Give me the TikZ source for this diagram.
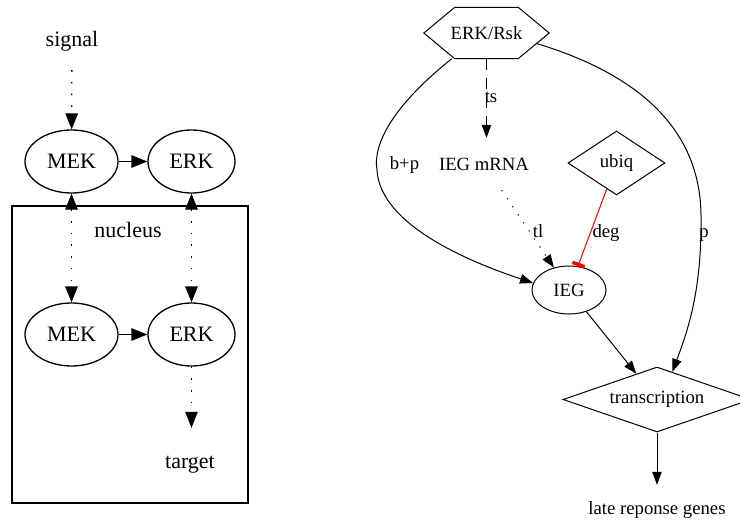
\documentclass[tikz,border=0pt]{standalone}
\usepackage{fontspec}
\setmainfont{Liberation Serif}
\usetikzlibrary{arrows.meta,shapes.geometric}
\begin{document}
\begin{tikzpicture}[x=1pt,y=-1pt,
  bigfont/.style={font=\fontsize{22}{26}\selectfont},
  smallfont/.style={font=\fontsize{18.7}{22}\selectfont},
  bigell/.style={draw, ellipse, line width=1.3pt, minimum height=63pt, inner sep=0pt, bigfont},
  bigtext/.style={inner sep=0pt, bigfont},
  smalltext/.style={inner sep=0pt, smallfont},
  lbl/.style={inner sep=0pt, anchor=base, smallfont},
  bigline/.style={line width=1.3pt, -{Triangle[length=16pt,width=12.5pt]}},
  bigboth/.style={line width=1.3pt, {Triangle[length=16pt,width=12.5pt]}-{Triangle[length=16pt,width=12.5pt]}},
  dotbig/.style={dash pattern=on 1.5pt off 10.2pt},
  smallline/.style={line width=1pt, -{Triangle[length=13pt,width=9.5pt]}},
  dotsmall/.style={dash pattern=on 1.2pt off 8.5pt},
  dashsmall/.style={dash pattern=on 11pt off 8pt},
  teeline/.style={line width=1pt, red, -{Rectangle[length=3.5pt,width=13pt]}},
]
\useasboundingbox (0,0) rectangle (740,522);

% ---------- left part ----------
\draw[line width=1.3pt] (12,206) rectangle (248,503);
\node[lbl, bigfont] (nucleus) at (128,237) {nucleus};

\node[bigtext, minimum height=58pt] (signal) at (72,41) {signal};
\node[bigell, minimum width=93pt] (mek1) at (71.5,161.5) {MEK};
\node[bigell, minimum width=87pt] (erk1) at (191.5,161.5) {ERK};
\node[bigell, minimum width=93pt] (mek2) at (71.5,334.5) {MEK};
\node[bigell, minimum width=87pt] (erk2) at (191.5,334.5) {ERK};
\node[bigtext, minimum height=74pt] (target) at (190,465) {target};

\draw[bigline, dotbig] (signal) -- (mek1);
\draw[bigline] (mek1) -- (erk1);
\draw[bigline] (mek2) -- (erk2);
\draw[bigboth, dotbig] (mek1) -- (mek2);
\draw[bigboth, dotbig] (erk1) -- (erk2);
\draw[bigline, dotbig] (erk2) -- (erk2 |- target.north);

% ---------- right part ----------
\node[smalltext, minimum width=125pt, minimum height=51pt] (rsk) at (486.5,33) {ERK/Rsk};
\draw[line width=1pt] (rsk.west) -- ([xshift=31pt]rsk.north west) -- ([xshift=-31pt]rsk.north east)
  -- (rsk.east) -- ([xshift=-31pt]rsk.south east) -- ([xshift=31pt]rsk.south west) -- cycle;

\node[smalltext, minimum height=52pt] (mrna) at (484,164) {IEG mRNA};
\node[draw, diamond, aspect=1.5, line width=1pt, inner sep=0pt, minimum width=97pt, minimum height=64pt, smallfont] (ubiq) at (616.5,163) {ubiq};
\node[draw, ellipse, line width=1pt, inner sep=0pt, minimum width=74pt, minimum height=48pt, smallfont] (ieg) at (569,290) {IEG};
\node[draw, diamond, aspect=2.9, line width=1pt, inner sep=0pt, minimum width=188pt, minimum height=65pt, smallfont] (tr) at (657,399.5) {transcription};
\node[smalltext, minimum height=50pt] (late) at (657,510) {late reponse genes};

\draw[smallline, dashsmall] (rsk.south) -- (rsk.south |- mrna.north);
\node[lbl] (lts) at (491,102) {ts};

\draw[smallline] ([xshift=28pt]rsk.south west) .. controls (400,100) and (372,140) .. (377,170)
  .. controls (380,225) and (470,262) .. (ieg.169);
\node[lbl] (lbp) at (404.5,169) {b+p};

\draw[smallline] ([xshift=-12pt,yshift=15pt]rsk.south east) .. controls (640,75) and (700,130) .. (701,215)
  .. controls (702,290) and (688,330) .. (tr.61);
\node[lbl] (lp) at (704,237.5) {p};

\draw[smallline, dotsmall] (mrna) -- (ieg);
\node[lbl] (ltl) at (538,237.5) {tl};

\draw[teeline] (ubiq) -- (ieg);
\node[lbl] (ldeg) at (606,237.5) {deg};

\draw[smallline] (ieg) -- (tr);
\draw[smallline] (tr) -- (late);
\end{tikzpicture}
\end{document}
